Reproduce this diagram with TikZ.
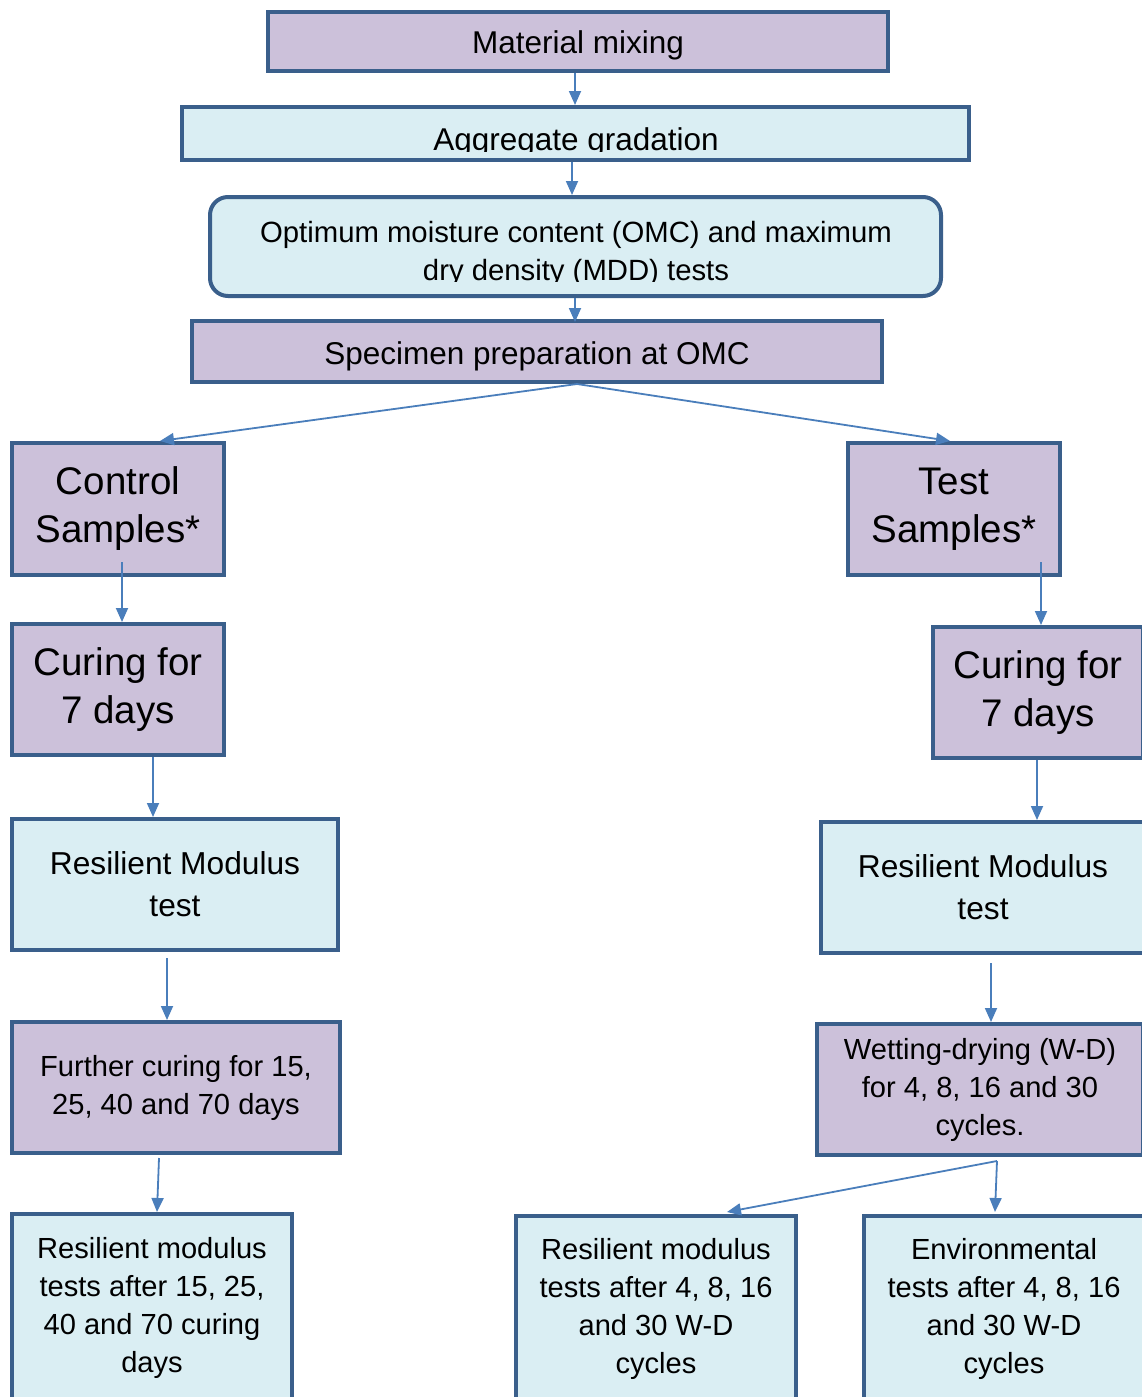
\documentclass[tikz,border=0pt]{standalone}
\usepackage{fontspec}
\setmainfont{Liberation Sans}
\usetikzlibrary{arrows.meta,calc}
\definecolor{pfill}{HTML}{CCC1DA}
\definecolor{bfill}{HTML}{DAEEF3}
\definecolor{bord}{HTML}{3A5F8B}
\definecolor{arrc}{HTML}{4A7EBB}
\begin{document}
\begin{tikzpicture}[x=1pt,y=-1pt,
  box/.style={draw=bord, line width=4pt, inner sep=0pt, align=center, text=black},
  pbox/.style={box, fill=pfill},
  bbox/.style={box, fill=bfill},
  arr/.style={draw=arrc, line width=1.8pt, -{Triangle[length=14pt,width=12pt]}},
  fTop/.style={font=\fontsize{31.5}{38}\selectfont, text height=25pt, text depth=0pt},
  fOmc/.style={font=\fontsize{29.3}{38}\selectfont},
  fBig/.style={font=\fontsize{38.5}{48}\selectfont},
  fMid/.style={font=\fontsize{31.7}{42}\selectfont},
  fSm/.style={font=\fontsize{29.1}{38}\selectfont},
  txt/.style={inner sep=0pt, text=black, anchor=base}
]
\useasboundingbox (0,0) rectangle (1142,1397);
\clip (0,0) rectangle (1142,1397);

% boxes
\node[pbox, fTop, minimum width=620pt, minimum height=59pt] (mix) at (578,41.5) {Material mixing};
\node[bbox, minimum width=787pt, minimum height=53pt] (agg) at (575.5,133.5) {};
\node[bbox, rounded corners=18pt, minimum width=731pt, minimum height=99pt] (omc) at (575.5,246.5) {};
\node[pbox, fTop, minimum width=690pt, minimum height=61pt] (spec) at (537,351.5) {Specimen preparation at OMC};

\node[pbox, fBig, minimum width=212pt, minimum height=132pt] (ctrl) at (118,509) {Control\\Samples*};
\node[pbox, fBig, minimum width=212pt, minimum height=132pt] (test) at (954,509) {Test\\Samples*};
\node[pbox, fBig, minimum width=212pt, minimum height=131pt] (cur1) at (118,689.5) {Curing for\\7 days};
\node[pbox, fBig, minimum width=210pt, minimum height=131pt] (cur2) at (1038,692.5) {Curing for\\7 days};
\node[bbox, fMid, minimum width=326pt, minimum height=131pt] (rm1) at (175,884.5) {Resilient Modulus\\test};
\node[bbox, fMid, minimum width=324pt, minimum height=131pt] (rm2) at (983,887.5) {Resilient Modulus\\test};
\node[pbox, fSm, minimum width=328pt, minimum height=131pt] (fur) at (176,1087.5) {Further curing for 15,\\25, 40 and 70 days};
\node[pbox, fSm, minimum width=326pt, minimum height=131pt] (wd) at (980,1089.5) {Wetting-drying (W-D)\\for 4, 8, 16 and 30\\cycles.};
\node[bbox, fSm, minimum width=280pt, minimum height=188pt] (rma) at (152,1308) {Resilient modulus\\tests after 15, 25,\\40 and 70 curing\\days};
\node[bbox, fSm, minimum width=280pt, minimum height=186pt] (rmb) at (656,1309) {Resilient modulus\\tests after 4, 8, 16\\and 30 W-D\\cycles};
\node[bbox, fSm, minimum width=280pt, minimum height=186pt] (env) at (1004,1309) {Environmental\\tests after 4, 8, 16\\and 30 W-D\\cycles};

% clipped texts
\begin{scope}
  \clip (185,110) rectangle (966,151);
  \node[txt, fTop] (aggt) at (576,150) {Aggregate gradation};
\end{scope}
\begin{scope}
  \clip (213,200) rectangle (938,281);
  \node[txt, fOmc] (omct1) at (576,242) {Optimum moisture content (OMC) and maximum};
  \node[txt, fOmc] (omct2) at (576,280) {dry density (MDD) tests};
\end{scope}

% connectors
\draw[arr] ([xshift=-3pt]mix.south) -- ([xshift=-3pt]mix.south |- agg.north);
\draw[arr] ([xshift=-3.5pt]agg.south) -- ([xshift=-3.5pt]agg.south |- omc.north);
\draw[arr] ([xshift=-0.5pt]omc.south) -- ([xshift=38pt,yshift=-3pt]spec.north);
\coordinate (br) at ([xshift=40pt]spec.south);
\draw[arr] (br) -- ([xshift=42pt]ctrl.north);
\draw[arr] (br) -- ([xshift=-4pt]test.north);
\draw[arr] ([xshift=4pt,yshift=15pt]ctrl.south) -- ([xshift=4pt]cur1.north);
\draw[arr] ([xshift=87pt,yshift=15pt]test.south) -- ([xshift=3pt]cur2.north);
\draw[arr] ([xshift=35pt]cur1.south) -- ([xshift=-22pt]rm1.north);
\draw[arr] ([xshift=-1pt]cur2.south) -- ([xshift=54pt]rm2.north);
\draw[arr] ([xshift=-8pt,yshift=-6pt]rm1.south) -- ([xshift=-9pt]fur.north);
\draw[arr] ([xshift=8pt,yshift=-8pt]rm2.south) -- ([xshift=11pt]wd.north);
\draw[arr] ([xshift=-17pt,yshift=-3pt]fur.south) -- ([xshift=5pt]rma.north);
\coordinate (wdb) at ([xshift=17pt,yshift=-4pt]wd.south);
\draw[arr] (wdb) -- ([xshift=71pt,yshift=2pt]rmb.north);
\draw[arr] (wdb) -- ([xshift=-9pt,yshift=2pt]env.north);
\end{tikzpicture}
\end{document}
